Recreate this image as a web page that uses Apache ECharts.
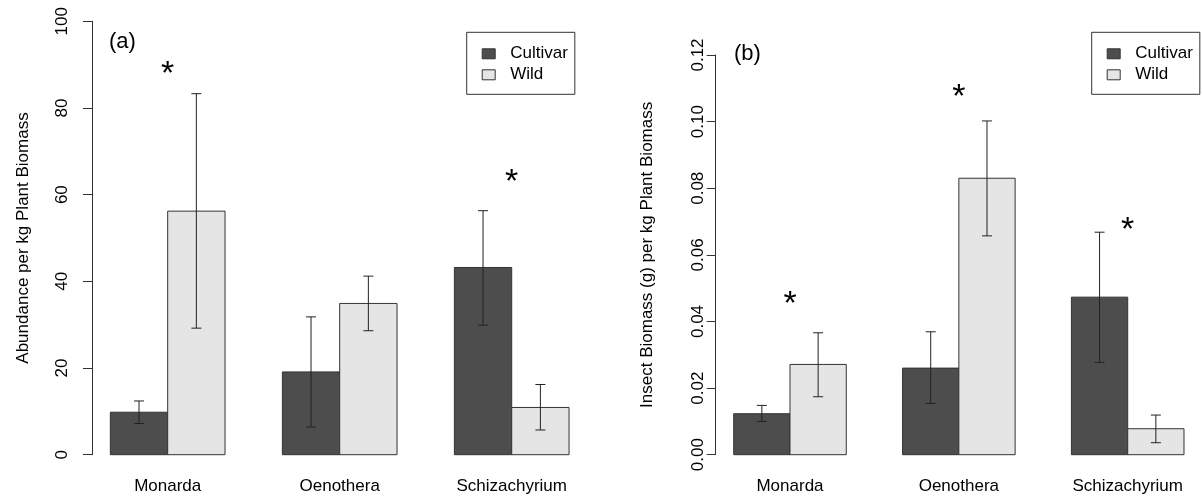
<!DOCTYPE html>
<html>
<head>
<meta charset="utf-8">
<script src="https://cdn.jsdelivr.net/npm/echarts@6/dist/echarts.min.js"></script>
<style>html,body{margin:0;padding:0;background:#fff;}#c{width:1202px;height:503px;}</style>
</head>
<body>
<div id="c"></div>
<script>
// ---- data ----
const categories = ['Monarda', 'Oenothera', 'Schizachyrium'];
const seriesNames = ['Cultivar', 'Wild'];

// Panel (a): abundance per kg plant biomass
const abundCultivar   = [9.8, 19.1, 43.2];
const abundCultivarLo = [7.2, 6.4, 29.9];
const abundCultivarHi = [12.4, 31.8, 56.3];
const abundWild       = [56.2, 34.9, 10.9];
const abundWildLo     = [29.2, 28.6, 5.7];
const abundWildHi     = [83.3, 41.2, 16.2];
const abundStars      = [89.5, null, 64.6];
const abundTicks      = [0, 20, 40, 60, 80, 100];

// Panel (b): insect biomass (g) per kg plant biomass
const massCultivar   = [0.0123, 0.0260, 0.0473];
const massCultivarLo = [0.0100, 0.0154, 0.0277];
const massCultivarHi = [0.0148, 0.0369, 0.0668];
const massWild       = [0.0271, 0.0830, 0.0078];
const massWildLo     = [0.0174, 0.0657, 0.0036];
const massWildHi     = [0.0366, 0.1002, 0.0119];
const massStars      = [0.0473, 0.1095, 0.0697];
const massTicks      = [0.00, 0.02, 0.04, 0.06, 0.08, 0.10, 0.12];

// ---- styling ----
const FONT = 'Liberation Sans, Arial, Helvetica, sans-serif';
const COL_CULT = '#4d4d4d';
const COL_WILD = '#e5e5e5';
const EDGE = '#333333';
const STAR_FS = 34;

// bar layout (R barplot, beside=TRUE, space=c(0,1)): group g spans [1+3g, 3+3g]
function barRenderer(offset, fill) {
  return function (params, api) {
    const i = api.value(0), v = api.value(1), lo = api.value(2), hi = api.value(3);
    const xl = 1 + 3 * i + offset, xr = xl + 1, xc = xl + 0.5;
    const tl = api.coord([xl, v]);
    const br = api.coord([xr, 0]);
    const top = api.coord([xc, hi]);
    const bot = api.coord([xc, lo]);
    const cap = 5;
    const ls = { stroke: '#222', lineWidth: 1 };
    return {
      type: 'group',
      children: [
        { type: 'rect', shape: { x: tl[0], y: tl[1], width: br[0] - tl[0], height: br[1] - tl[1] },
          style: { fill: fill, stroke: EDGE, lineWidth: 1 } },
        { type: 'line', shape: { x1: top[0], y1: top[1], x2: bot[0], y2: bot[1] }, style: ls },
        { type: 'line', shape: { x1: top[0] - cap, y1: top[1], x2: top[0] + cap, y2: top[1] }, style: ls },
        { type: 'line', shape: { x1: bot[0] - cap, y1: bot[1], x2: bot[0] + cap, y2: bot[1] }, style: ls }
      ]
    };
  };
}

function starRenderer(params, api) {
  const i = api.value(0), v = api.value(1);
  const p = api.coord([2 + 3 * i, v]);
  return {
    type: 'text',
    style: {
      text: '*', x: p[0], y: p[1] + 0.234 * STAR_FS,
      font: STAR_FS + 'px ' + FONT, align: 'center', verticalAlign: 'middle', fill: '#000'
    }
  };
}

function rows(means, lo, hi) {
  return categories.map((c, i) => [i, means[i], lo[i], hi[i]]);
}
function starRows(stars) {
  return stars.map((v, i) => [i, v]).filter(d => d[1] !== null);
}

function xAxisFor(grid) {
  return {
    type: 'value', gridIndex: grid, min: 0.68, max: 9.32,
    axisLine: { show: false }, axisTick: { show: false }, splitLine: { show: false },
    axisLabel: {
      customValues: [2, 5, 8],
      formatter: v => categories[Math.round((v - 2) / 3)],
      margin: 23, fontSize: 17, color: '#000', fontFamily: FONT
    }
  };
}

function yAxisFor(grid, ticks, name, labelMargin, nameGap, digits) {
  return {
    type: 'value', gridIndex: grid,
    min: ticks[0], max: ticks[ticks.length - 1], interval: ticks[1] - ticks[0],
    axisLine: { show: true, lineStyle: { color: '#333', width: 1 } },
    axisTick: { show: true, length: 9, lineStyle: { color: '#333', width: 1 } },
    splitLine: { show: false },
    axisLabel: {
      rotate: 90, margin: labelMargin, fontSize: 17, color: '#000', fontFamily: FONT,
      formatter: v => digits ? Number(v).toFixed(digits) : String(Math.round(v))
    },
    name: name, nameLocation: 'middle', nameGap: nameGap,
    nameTextStyle: { fontSize: 17, color: '#000', fontFamily: FONT }
  };
}

function legendAt(left) {
  return {
    left: left, top: 32.3, orient: 'vertical', data: seriesNames, icon: 'rect',
    itemWidth: 13, itemHeight: 10, itemGap: 4, padding: [13, 7, 11, 15],
    borderColor: '#333', borderWidth: 1, selectedMode: false,
    itemStyle: { borderColor: '#333', borderWidth: 1 },
    textStyle: { fontSize: 17, lineHeight: 17, color: '#000', fontFamily: FONT, padding: [0, 0, 0, 10] }
  };
}

const option = {
  animation: false,
  backgroundColor: '#fff',
  title: [
    { text: '(a)', left: 109, top: 31, padding: 0,
      textStyle: { fontSize: 22, fontWeight: 'normal', color: '#000', fontFamily: FONT } },
    { text: '(b)', left: 734, top: 43, padding: 0,
      textStyle: { fontSize: 22, fontWeight: 'normal', color: '#000', fontFamily: FONT } }
  ],
  legend: [legendAt(466.7), legendAt(1091.7)],
  grid: [
    { left: 92, top: 21.3, width: 495.4, height: 433.4 },
    { left: 715.7, top: 55, width: 495.4, height: 399.7 }
  ],
  xAxis: [xAxisFor(0), xAxisFor(1)],
  yAxis: [
    yAxisFor(0, abundTicks, 'Abundance per kg Plant Biomass', 21, 60, 0),
    yAxisFor(1, massTicks, 'Insect Biomass (g) per kg Plant Biomass', 8.5, 60, 2)
  ],
  series: [
    { type: 'custom', name: 'Cultivar', xAxisIndex: 0, yAxisIndex: 0, itemStyle: { color: COL_CULT },
      renderItem: barRenderer(0, COL_CULT), data: rows(abundCultivar, abundCultivarLo, abundCultivarHi) },
    { type: 'custom', name: 'Wild', xAxisIndex: 0, yAxisIndex: 0, itemStyle: { color: COL_WILD },
      renderItem: barRenderer(1, COL_WILD), data: rows(abundWild, abundWildLo, abundWildHi) },
    { type: 'custom', name: 'sigA', xAxisIndex: 0, yAxisIndex: 0,
      renderItem: starRenderer, data: starRows(abundStars) },
    { type: 'custom', name: 'Cultivar', xAxisIndex: 1, yAxisIndex: 1, itemStyle: { color: COL_CULT },
      renderItem: barRenderer(0, COL_CULT), data: rows(massCultivar, massCultivarLo, massCultivarHi) },
    { type: 'custom', name: 'Wild', xAxisIndex: 1, yAxisIndex: 1, itemStyle: { color: COL_WILD },
      renderItem: barRenderer(1, COL_WILD), data: rows(massWild, massWildLo, massWildHi) },
    { type: 'custom', name: 'sigB', xAxisIndex: 1, yAxisIndex: 1,
      renderItem: starRenderer, data: starRows(massStars) }
  ]
};

const chart = echarts.init(document.getElementById('c'), null, { renderer: 'canvas' });
chart.setOption(option);
</script>
</body>
</html>
